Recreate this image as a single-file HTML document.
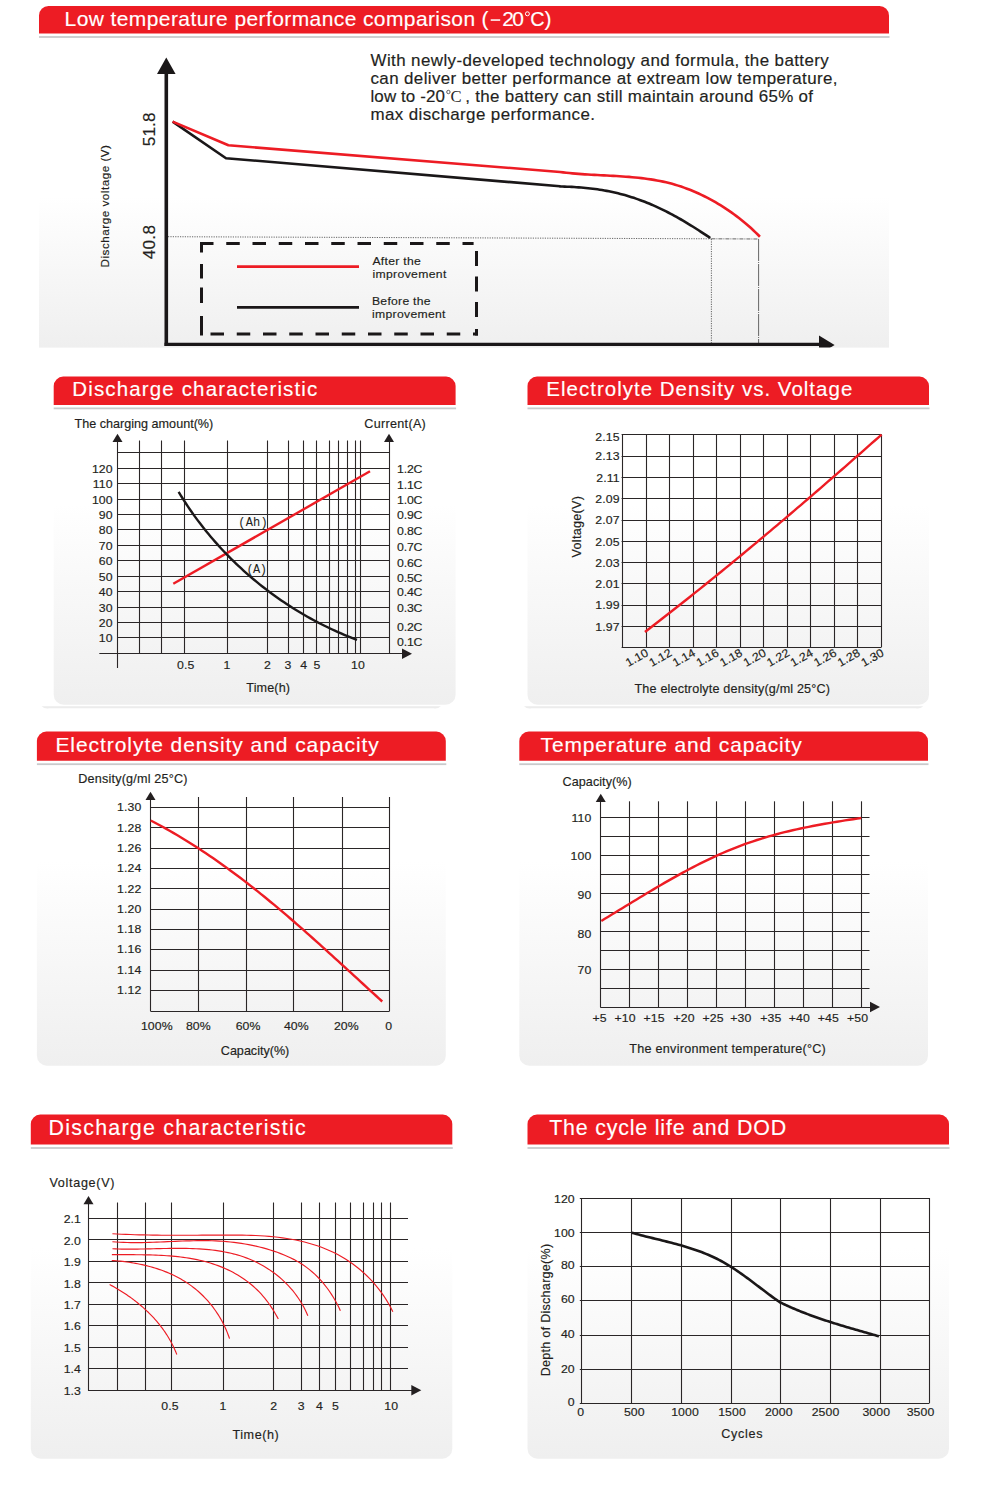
<!DOCTYPE html>
<html><head><meta charset="utf-8"><title>Battery characteristic curves</title>
<style>html,body{margin:0;padding:0;background:#fff;overflow:hidden}svg{display:block}text{font-family:"Liberation Sans",sans-serif;fill:#231f20;stroke:#231f20;stroke-width:.16px;paint-order:stroke}</style>
</head><body>
<svg width="1000" height="1500" viewBox="0 0 1000 1500">
<defs>
<linearGradient id="g" x1="0" y1="0" x2="0" y2="1"><stop offset="0" stop-color="#fff"/><stop offset="0.33" stop-color="#fff"/><stop offset="1" stop-color="#efefef"/></linearGradient>
<linearGradient id="g1" x1="0" y1="0" x2="0" y2="1"><stop offset="0" stop-color="#fff"/><stop offset="0.52" stop-color="#fff"/><stop offset="1" stop-color="#efefef"/></linearGradient>
</defs>
<rect width="1000" height="1500" fill="#fff"/>
<rect x="39" y="33.6" width="850" height="314" fill="url(#g1)"/>
<rect x="39" y="33.6" width="850" height="3" fill="#fff"/>
<rect x="39" y="36.1" width="850.5" height="1.8" fill="#c9cacc"/>
<path d="M39 33.6 V15.5 A9.5 9.5 0 0 1 48.5 6 H879.5 A9.5 9.5 0 0 1 889 15.5 V33.6 Z" fill="#ed1c24"/>
<text font-size="21" textLength="410.5" lengthAdjust="spacing" style="fill:#fff;stroke:#fff;stroke-width:0.15px;" transform="translate(64.6 25.5) scale(1 1)">Low temperature performance comparison</text>
<text font-size="21" style="fill:#fff;stroke:#fff;stroke-width:0.15px;" transform="translate(481.6 25.8) scale(1 1)">(</text>
<rect x="490.7" y="19.3" width="9.5" height="1.5" fill="#fff"/>
<text font-size="21" textLength="21.7" lengthAdjust="spacing" style="fill:#fff;stroke:#fff;stroke-width:0.15px;" transform="translate(502.2 26.4) scale(1 1)">20</text>
<circle cx="527.4" cy="13.8" r="2" fill="none" stroke="#fff" stroke-width="1"/>
<text font-size="20.6" style="fill:#fff;stroke:#fff;stroke-width:0.15px;" transform="translate(530.2 26.4) scale(0.96 1)">C</text>
<text font-size="21" style="fill:#fff;stroke:#fff;stroke-width:0.15px;" transform="translate(544.6 25.8) scale(1 1)">)</text>
<text font-size="16" textLength="432.36" lengthAdjust="spacing" transform="translate(370.5 65.75) scale(1.06 1)">With newly-developed technology and formula, the battery</text>
<text font-size="16" textLength="440.57" lengthAdjust="spacing" transform="translate(370.5 83.85) scale(1.06 1)">can deliver better performance at extream low temperature,</text>
<text font-size="16" textLength="70.19" lengthAdjust="spacing" transform="translate(370.5 102) scale(1.06 1)">low to -20</text>
<text font-size="16" textLength="328.02" lengthAdjust="spacing" transform="translate(465.3 102) scale(1.06 1)">, the battery can still maintain around 65% of</text>
<text font-size="16" textLength="211.79" lengthAdjust="spacing" transform="translate(370.5 120.1) scale(1.06 1)">max discharge performance.</text>
<circle cx="448.4" cy="92" r="1.7" fill="none" stroke="#3a3637" stroke-width="0.8"/>
<text font-size="17" style="fill:#2c2829;stroke:#2c2829;font-family:'Liberation Serif',serif;stroke-width:0px;" transform="translate(450.6 102.2) scale(0.98 1)">C</text>
<line x1="168" y1="236.7" x2="711.4" y2="238.8" stroke="#555" stroke-width="0.9" stroke-dasharray="1.2 1.2"/>
<line x1="711.4" y1="238.8" x2="758.6" y2="239" stroke="#666" stroke-width="1" stroke-dasharray="4 1 1 1"/>
<line x1="711.4" y1="239" x2="711.4" y2="343" stroke="#555" stroke-width="0.9" stroke-dasharray="1.2 1.2"/>
<line x1="758.6" y1="239" x2="758.6" y2="343" stroke="#666" stroke-width="1" stroke-dasharray="22 1 1 1"/>
<path d="M172.6 121.6 L226 158.2 L560 186.3 L559.96 186.5L562.31 186.56L564.66 186.63L567.01 186.71L569.36 186.81L571.71 186.92L574.06 187.04L576.41 187.19L578.75 187.35L581.1 187.53L583.44 187.72L585.78 187.94L588.11 188.17L590.44 188.43L592.77 188.71L595.09 189L597.41 189.33L599.73 189.67L602.04 190.04L604.35 190.43L606.65 190.85L608.94 191.29L611.23 191.76L613.51 192.26L615.79 192.78L618.06 193.33L620.32 193.9L622.57 194.5L624.82 195.12L627.07 195.77L629.3 196.44L631.53 197.14L633.75 197.86L635.97 198.61L638.17 199.37L640.37 200.17L642.56 200.98L644.74 201.82L646.92 202.68L649.09 203.57L651.25 204.47L653.4 205.4L655.54 206.35L657.67 207.32L659.8 208.32L661.91 209.33L664.02 210.36L666.12 211.41L668.21 212.48L670.29 213.57L672.37 214.68L674.44 215.8L676.49 216.93L678.54 218.08L680.59 219.25L682.62 220.43L684.65 221.62L686.66 222.82L688.67 224.04L690.68 225.27L692.67 226.51L694.66 227.75L696.63 229.01L698.61 230.28L700.57 231.55L702.52 232.83L704.47 234.11L706.41 235.41L708.34 236.7L710.27 238.01" fill="none" stroke="#1a1718" stroke-width="2.6" stroke-linejoin="round"/>
<path d="M172.6 121.6 L228.4 145.3 L560 172 L560.03 171.98L563.11 172.38L566.21 172.74L569.31 173.08L572.41 173.38L575.53 173.65L578.65 173.91L581.78 174.14L584.91 174.35L588.05 174.55L591.19 174.73L594.33 174.91L597.48 175.07L600.63 175.23L603.78 175.39L606.93 175.55L610.08 175.72L613.23 175.89L616.38 176.07L619.52 176.26L622.67 176.46L625.81 176.68L628.95 176.92L632.08 177.18L635.21 177.47L638.34 177.79L641.45 178.13L644.56 178.51L647.66 178.93L650.76 179.38L653.84 179.87L656.92 180.41L659.99 181L663.04 181.63L666.08 182.32L669.12 183.06L672.13 183.86L675.14 184.72L678.13 185.63L681.11 186.6L684.07 187.62L687.01 188.7L689.94 189.83L692.85 191.01L695.75 192.24L698.62 193.53L701.47 194.86L704.31 196.23L707.12 197.66L709.91 199.13L712.67 200.64L715.42 202.2L718.14 203.8L720.83 205.45L723.5 207.13L726.15 208.85L728.76 210.61L731.35 212.41L733.91 214.25L736.44 216.12L738.94 218.03L741.41 219.97L743.85 221.95L746.26 223.96L748.63 226L750.96 228.08L753.26 230.2L755.51 232.34L757.73 234.52L759.91 236.74" fill="none" stroke="#ed1c24" stroke-width="2.6" stroke-linejoin="round"/>
<line x1="166.3" y1="72" x2="166.3" y2="346" stroke="#1a1718" stroke-width="3.6"/>
<line x1="164.5" y1="344.3" x2="822" y2="344.3" stroke="#1a1718" stroke-width="3.2"/>
<polygon points="166.3,57.5 157,74 175.6,74" fill="#1a1718"/>
<clipPath id="c1"><rect x="39" y="0" width="850" height="347.6"/></clipPath>
<polygon points="834.6,345 819,335.4 819,354.6" fill="#1a1718" clip-path="url(#c1)"/>
<line x1="200" y1="243.5" x2="473.6" y2="243.5" stroke="#1a1718" stroke-width="3" stroke-dasharray="13.5 12.75" stroke-linecap="butt"/>
<line x1="210.5" y1="334.1" x2="478" y2="334.1" stroke="#1a1718" stroke-width="3" stroke-dasharray="13.5 12.75" stroke-linecap="butt"/>
<line x1="201.5" y1="242" x2="201.5" y2="335.6" stroke="#1a1718" stroke-width="3" stroke-dasharray="10.5 11.5 14.5 9 15.5 13 20 0"/>
<line x1="476.5" y1="251" x2="476.5" y2="335.6" stroke="#1a1718" stroke-width="3" stroke-dasharray="15 10.5 15 10.5 15 12 20 0"/>
<line x1="237" y1="266.6" x2="359" y2="266.6" stroke="#ed1c24" stroke-width="2.6"/>
<line x1="237" y1="307.4" x2="359" y2="307.4" stroke="#1a1718" stroke-width="2.6"/>
<text font-size="11.5" textLength="45.75" lengthAdjust="spacing" transform="translate(372.4 265.2) scale(1.06 1)">After the</text>
<text font-size="11.5" textLength="69.81" lengthAdjust="spacing" transform="translate(372.4 278.4) scale(1.06 1)">improvement</text>
<text font-size="11.5" textLength="55.19" lengthAdjust="spacing" transform="translate(372 305.3) scale(1.06 1)">Before the</text>
<text font-size="11.5" textLength="69.34" lengthAdjust="spacing" transform="translate(372 318.3) scale(1.06 1)">improvement</text>
<text font-size="11" textLength="115.57" lengthAdjust="spacing" transform="translate(109 267.5) rotate(-90) scale(1.06 1)">Discharge voltage (V)</text>
<text font-size="16.2" textLength="31.89" lengthAdjust="spacing" transform="translate(155 146.3) rotate(-90) scale(1.06 1)">51.8</text>
<text font-size="16.2" textLength="32.36" lengthAdjust="spacing" transform="translate(155.3 259.3) rotate(-90) scale(1.06 1)">40.8</text>
<path d="M41.5 706.2 A9 9 0 0 0 49 708.2 H433.4 A9 9 0 0 0 440.9 706.2 Z" fill="#ececec"/>
<path d="M53.7 405 H455.6 V694.8 A10 10 0 0 1 445.6 704.8 H63.7 A10 10 0 0 1 53.7 694.8 Z" fill="url(#g)"/>
<rect x="53.7" y="405" width="401.9" height="3" fill="#fff"/>
<rect x="53.7" y="407.5" width="402.4" height="1.8" fill="#c9cacc"/>
<path d="M53.7 405 V386.1 A9.5 9.5 0 0 1 63.2 376.6 H446.1 A9.5 9.5 0 0 1 455.6 386.1 V405 Z" fill="#ed1c24"/>
<text font-size="20.5" textLength="245" lengthAdjust="spacing" style="fill:#fff;stroke:#fff;stroke-width:0.15px;" transform="translate(72.3 396.1) scale(1 1)">Discharge characteristic</text>
<text font-size="11.9" textLength="130.94" lengthAdjust="spacing" transform="translate(74.5 427.5) scale(1.06 1)">The charging amount(%)</text>
<text font-size="11.9" textLength="58.02" lengthAdjust="spacing" transform="translate(364.3 427.5) scale(1.06 1)">Current(A)</text>
<line x1="139.5" y1="440.5" x2="139.5" y2="653.7" stroke="#2a2627" stroke-width="1.1"/>
<line x1="161.5" y1="440.5" x2="161.5" y2="653.7" stroke="#2a2627" stroke-width="1.1"/>
<line x1="184.5" y1="440.5" x2="184.5" y2="653.7" stroke="#2a2627" stroke-width="1.1"/>
<line x1="227.5" y1="440.5" x2="227.5" y2="653.7" stroke="#2a2627" stroke-width="1.1"/>
<line x1="267.5" y1="440.5" x2="267.5" y2="653.7" stroke="#2a2627" stroke-width="1.1"/>
<line x1="288.5" y1="440.5" x2="288.5" y2="653.7" stroke="#2a2627" stroke-width="1.1"/>
<line x1="303.5" y1="440.5" x2="303.5" y2="653.7" stroke="#2a2627" stroke-width="1.1"/>
<line x1="316.5" y1="440.5" x2="316.5" y2="653.7" stroke="#2a2627" stroke-width="1.1"/>
<line x1="329.5" y1="440.5" x2="329.5" y2="653.7" stroke="#2a2627" stroke-width="1.1"/>
<line x1="338.5" y1="440.5" x2="338.5" y2="653.7" stroke="#2a2627" stroke-width="1.1"/>
<line x1="347.5" y1="440.5" x2="347.5" y2="653.7" stroke="#2a2627" stroke-width="1.1"/>
<line x1="355.5" y1="440.5" x2="355.5" y2="653.7" stroke="#2a2627" stroke-width="1.1"/>
<line x1="360.5" y1="440.5" x2="360.5" y2="653.7" stroke="#2a2627" stroke-width="1.1"/>
<line x1="117.5" y1="452.5" x2="389" y2="452.5" stroke="#2a2627" stroke-width="1.1"/>
<line x1="117.5" y1="468.5" x2="389" y2="468.5" stroke="#2a2627" stroke-width="1.1"/>
<line x1="117.5" y1="483.5" x2="389" y2="483.5" stroke="#2a2627" stroke-width="1.1"/>
<line x1="117.5" y1="499.5" x2="389" y2="499.5" stroke="#2a2627" stroke-width="1.1"/>
<line x1="117.5" y1="514.5" x2="389" y2="514.5" stroke="#2a2627" stroke-width="1.1"/>
<line x1="117.5" y1="529.5" x2="389" y2="529.5" stroke="#2a2627" stroke-width="1.1"/>
<line x1="117.5" y1="545.5" x2="389" y2="545.5" stroke="#2a2627" stroke-width="1.1"/>
<line x1="117.5" y1="560.5" x2="389" y2="560.5" stroke="#2a2627" stroke-width="1.1"/>
<line x1="117.5" y1="576.5" x2="389" y2="576.5" stroke="#2a2627" stroke-width="1.1"/>
<line x1="117.5" y1="591.5" x2="389" y2="591.5" stroke="#2a2627" stroke-width="1.1"/>
<line x1="117.5" y1="607.5" x2="389" y2="607.5" stroke="#2a2627" stroke-width="1.1"/>
<line x1="117.5" y1="622.5" x2="389" y2="622.5" stroke="#2a2627" stroke-width="1.1"/>
<line x1="117.5" y1="637.5" x2="389" y2="637.5" stroke="#2a2627" stroke-width="1.1"/>
<line x1="117.5" y1="441" x2="117.5" y2="668" stroke="#2a2627" stroke-width="1.1"/>
<line x1="389.5" y1="441" x2="389.5" y2="653.7" stroke="#2a2627" stroke-width="1.1"/>
<line x1="99.3" y1="653.5" x2="404" y2="653.5" stroke="#2a2627" stroke-width="1.1"/>
<polygon points="117.5,433.7 112.5,442 122.5,442" fill="#231f20"/>
<polygon points="389,433.7 384,442 394,442" fill="#231f20"/>
<polygon points="412,653.7 402,648.4 402,659" fill="#231f20"/>
<text font-size="11.6" text-anchor="end" letter-spacing="0.09" transform="translate(112.7 472.6) scale(1.06 1)">120</text>
<text font-size="11.6" text-anchor="end" letter-spacing="0.09" transform="translate(112.7 488.2) scale(1.06 1)">110</text>
<text font-size="11.6" text-anchor="end" letter-spacing="0.09" transform="translate(112.7 503.6) scale(1.06 1)">100</text>
<text font-size="11.6" text-anchor="end" letter-spacing="0.09" transform="translate(112.7 519.1) scale(1.06 1)">90</text>
<text font-size="11.6" text-anchor="end" letter-spacing="0.09" transform="translate(112.7 534.4) scale(1.06 1)">80</text>
<text font-size="11.6" text-anchor="end" letter-spacing="0.09" transform="translate(112.7 549.9) scale(1.06 1)">70</text>
<text font-size="11.6" text-anchor="end" letter-spacing="0.09" transform="translate(112.7 565.4) scale(1.06 1)">60</text>
<text font-size="11.6" text-anchor="end" letter-spacing="0.09" transform="translate(112.7 580.9) scale(1.06 1)">50</text>
<text font-size="11.6" text-anchor="end" letter-spacing="0.09" transform="translate(112.7 596.4) scale(1.06 1)">40</text>
<text font-size="11.6" text-anchor="end" letter-spacing="0.09" transform="translate(112.7 611.8) scale(1.06 1)">30</text>
<text font-size="11.6" text-anchor="end" letter-spacing="0.09" transform="translate(112.7 627.1) scale(1.06 1)">20</text>
<text font-size="11.6" text-anchor="end" letter-spacing="0.09" transform="translate(112.7 642.4) scale(1.06 1)">10</text>
<text font-size="11.6" textLength="24.06" lengthAdjust="spacing" transform="translate(397 472.5) scale(1.06 1)">1.2C</text>
<text font-size="11.6" textLength="24.06" lengthAdjust="spacing" transform="translate(397 488.75) scale(1.06 1)">1.1C</text>
<text font-size="11.6" textLength="24.06" lengthAdjust="spacing" transform="translate(397 504.25) scale(1.06 1)">1.0C</text>
<text font-size="11.6" textLength="24.06" lengthAdjust="spacing" transform="translate(397 519.1) scale(1.06 1)">0.9C</text>
<text font-size="11.6" textLength="24.06" lengthAdjust="spacing" transform="translate(397 535) scale(1.06 1)">0.8C</text>
<text font-size="11.6" textLength="24.06" lengthAdjust="spacing" transform="translate(397 550.5) scale(1.06 1)">0.7C</text>
<text font-size="11.6" textLength="24.06" lengthAdjust="spacing" transform="translate(397 567) scale(1.06 1)">0.6C</text>
<text font-size="11.6" textLength="24.06" lengthAdjust="spacing" transform="translate(397 581.75) scale(1.06 1)">0.5C</text>
<text font-size="11.6" textLength="24.06" lengthAdjust="spacing" transform="translate(397 596.25) scale(1.06 1)">0.4C</text>
<text font-size="11.6" textLength="24.06" lengthAdjust="spacing" transform="translate(397 612) scale(1.06 1)">0.3C</text>
<text font-size="11.6" textLength="24.06" lengthAdjust="spacing" transform="translate(397 630.75) scale(1.06 1)">0.2C</text>
<text font-size="11.6" textLength="24.06" lengthAdjust="spacing" transform="translate(397 646.25) scale(1.06 1)">0.1C</text>
<text font-size="11.6" text-anchor="middle" letter-spacing="0.09" transform="translate(185.8 668.9) scale(1.06 1)">0.5</text>
<text font-size="11.6" text-anchor="middle" letter-spacing="0.09" transform="translate(227.05 668.9) scale(1.06 1)">1</text>
<text font-size="11.6" text-anchor="middle" letter-spacing="0.09" transform="translate(267.55 668.9) scale(1.06 1)">2</text>
<text font-size="11.6" text-anchor="middle" letter-spacing="0.09" transform="translate(288.05 668.9) scale(1.06 1)">3</text>
<text font-size="11.6" text-anchor="middle" letter-spacing="0.09" transform="translate(303.8 668.9) scale(1.06 1)">4</text>
<text font-size="11.6" text-anchor="middle" letter-spacing="0.09" transform="translate(317.05 668.9) scale(1.06 1)">5</text>
<text font-size="11.6" text-anchor="middle" letter-spacing="0.09" transform="translate(358.05 668.9) scale(1.06 1)">10</text>
<text font-size="11.9" textLength="41.23" lengthAdjust="spacing" transform="translate(246.3 692) scale(1.06 1)">Time(h)</text>
<rect x="239" y="515.5" width="27.5" height="13" fill="#fafafa"/>
<text font-size="12" textLength="29.6" lengthAdjust="spacing" style="font-family:'Liberation Mono',monospace;stroke-width:0px;" transform="translate(238.2 526) scale(1 1)">(Ah)</text>
<rect x="247" y="562" width="19" height="13" fill="#f7f7f7"/>
<text font-size="12" textLength="20.6" lengthAdjust="spacing" style="font-family:'Liberation Mono',monospace;stroke-width:0px;" transform="translate(246.4 572.8) scale(1 1)">(A)</text>
<path d="M173.3 583.8 L370 471.3" fill="none" stroke="#ed1c24" stroke-width="2.4"/>
<path d="M178.63 491.9L180.41 494.83L182.23 497.75L184.07 500.64L185.94 503.52L187.83 506.37L189.76 509.21L191.71 512.02L193.69 514.82L195.7 517.59L197.73 520.35L199.8 523.08L201.89 525.79L204 528.48L206.14 531.15L208.31 533.8L210.5 536.42L212.72 539.02L214.96 541.61L217.23 544.16L219.52 546.7L221.84 549.21L224.18 551.71L226.54 554.17L228.93 556.62L231.35 559.04L233.78 561.44L236.24 563.81L238.72 566.16L241.22 568.49L243.75 570.79L246.3 573.07L248.87 575.32L251.46 577.55L254.07 579.76L256.7 581.94L259.35 584.09L262.03 586.22L264.72 588.32L267.44 590.4L270.17 592.45L272.93 594.48L275.7 596.48L278.49 598.45L281.3 600.39L284.13 602.31L286.98 604.21L289.84 606.07L292.73 607.91L295.63 609.72L298.55 611.5L301.48 613.26L304.44 614.98L307.4 616.68L310.39 618.35L313.39 620L316.41 621.61L319.44 623.2L322.49 624.75L325.55 626.28L328.63 627.78L331.72 629.24L334.83 630.68L337.95 632.09L341.09 633.47L344.24 634.82L347.4 636.13L350.58 637.42L353.76 638.68L356.97 639.9" fill="none" stroke="#1a1718" stroke-width="2.4"/>
<path d="M523.9 706.2 A9 9 0 0 0 531.4 708.2 H915.8 A9 9 0 0 0 923.3 706.2 Z" fill="#ececec"/>
<path d="M527.5 405 H929 V694.8 A10 10 0 0 1 919 704.8 H537.5 A10 10 0 0 1 527.5 694.8 Z" fill="url(#g)"/>
<rect x="527.5" y="405" width="401.5" height="3" fill="#fff"/>
<rect x="527.5" y="407.5" width="402" height="1.8" fill="#c9cacc"/>
<path d="M527.5 405 V386.1 A9.5 9.5 0 0 1 537 376.6 H919.5 A9.5 9.5 0 0 1 929 386.1 V405 Z" fill="#ed1c24"/>
<text font-size="20.5" textLength="306" lengthAdjust="spacing" style="fill:#fff;stroke:#fff;stroke-width:0.15px;" transform="translate(546.3 396.1) scale(1 1)">Electrolyte Density vs. Voltage</text>
<line x1="622.5" y1="434.5" x2="622.5" y2="647" stroke="#2a2627" stroke-width="1.1"/>
<line x1="646.5" y1="434.5" x2="646.5" y2="647" stroke="#2a2627" stroke-width="1.1"/>
<line x1="669.5" y1="434.5" x2="669.5" y2="647" stroke="#2a2627" stroke-width="1.1"/>
<line x1="693.5" y1="434.5" x2="693.5" y2="647" stroke="#2a2627" stroke-width="1.1"/>
<line x1="716.5" y1="434.5" x2="716.5" y2="647" stroke="#2a2627" stroke-width="1.1"/>
<line x1="740.5" y1="434.5" x2="740.5" y2="647" stroke="#2a2627" stroke-width="1.1"/>
<line x1="763.5" y1="434.5" x2="763.5" y2="647" stroke="#2a2627" stroke-width="1.1"/>
<line x1="787.5" y1="434.5" x2="787.5" y2="647" stroke="#2a2627" stroke-width="1.1"/>
<line x1="810.5" y1="434.5" x2="810.5" y2="647" stroke="#2a2627" stroke-width="1.1"/>
<line x1="834.5" y1="434.5" x2="834.5" y2="647" stroke="#2a2627" stroke-width="1.1"/>
<line x1="857.5" y1="434.5" x2="857.5" y2="647" stroke="#2a2627" stroke-width="1.1"/>
<line x1="881.5" y1="434.5" x2="881.5" y2="647" stroke="#2a2627" stroke-width="1.1"/>
<line x1="621.6" y1="434.5" x2="881.5" y2="434.5" stroke="#2a2627" stroke-width="1.1"/>
<line x1="621.6" y1="456.5" x2="881.5" y2="456.5" stroke="#2a2627" stroke-width="1.1"/>
<line x1="621.6" y1="477.5" x2="881.5" y2="477.5" stroke="#2a2627" stroke-width="1.1"/>
<line x1="621.6" y1="498.5" x2="881.5" y2="498.5" stroke="#2a2627" stroke-width="1.1"/>
<line x1="621.6" y1="520.5" x2="881.5" y2="520.5" stroke="#2a2627" stroke-width="1.1"/>
<line x1="621.6" y1="541.5" x2="881.5" y2="541.5" stroke="#2a2627" stroke-width="1.1"/>
<line x1="621.6" y1="562.5" x2="881.5" y2="562.5" stroke="#2a2627" stroke-width="1.1"/>
<line x1="621.6" y1="583.5" x2="881.5" y2="583.5" stroke="#2a2627" stroke-width="1.1"/>
<line x1="621.6" y1="605.5" x2="881.5" y2="605.5" stroke="#2a2627" stroke-width="1.1"/>
<line x1="621.6" y1="626.5" x2="881.5" y2="626.5" stroke="#2a2627" stroke-width="1.1"/>
<line x1="621.6" y1="647.5" x2="881.5" y2="647.5" stroke="#2a2627" stroke-width="1.1"/>
<text font-size="11.6" text-anchor="end" letter-spacing="0.09" transform="translate(619.6 440.5) scale(1.06 1)">2.15</text>
<text font-size="11.6" text-anchor="end" letter-spacing="0.09" transform="translate(619.6 460.3) scale(1.06 1)">2.13</text>
<text font-size="11.6" text-anchor="end" letter-spacing="0.09" transform="translate(619.6 481.7) scale(1.06 1)">2.11</text>
<text font-size="11.6" text-anchor="end" letter-spacing="0.09" transform="translate(619.6 502.95) scale(1.06 1)">2.09</text>
<text font-size="11.6" text-anchor="end" letter-spacing="0.09" transform="translate(619.6 524.2) scale(1.06 1)">2.07</text>
<text font-size="11.6" text-anchor="end" letter-spacing="0.09" transform="translate(619.6 545.8) scale(1.06 1)">2.05</text>
<text font-size="11.6" text-anchor="end" letter-spacing="0.09" transform="translate(619.6 566.7) scale(1.06 1)">2.03</text>
<text font-size="11.6" text-anchor="end" letter-spacing="0.09" transform="translate(619.6 588.1) scale(1.06 1)">2.01</text>
<text font-size="11.6" text-anchor="end" letter-spacing="0.09" transform="translate(619.6 609.2) scale(1.06 1)">1.99</text>
<text font-size="11.6" text-anchor="end" letter-spacing="0.09" transform="translate(619.6 630.6) scale(1.06 1)">1.97</text>
<text font-size="11.6" text-anchor="end" transform="translate(649.14 655.3) rotate(-29) scale(1.06 1)">1.10</text>
<text font-size="11.6" text-anchor="end" transform="translate(672.69 655.3) rotate(-29) scale(1.06 1)">1.12</text>
<text font-size="11.6" text-anchor="end" transform="translate(696.24 655.3) rotate(-29) scale(1.06 1)">1.14</text>
<text font-size="11.6" text-anchor="end" transform="translate(719.78 655.3) rotate(-29) scale(1.06 1)">1.16</text>
<text font-size="11.6" text-anchor="end" transform="translate(743.33 655.3) rotate(-29) scale(1.06 1)">1.18</text>
<text font-size="11.6" text-anchor="end" transform="translate(766.87 655.3) rotate(-29) scale(1.06 1)">1.20</text>
<text font-size="11.6" text-anchor="end" transform="translate(790.42 655.3) rotate(-29) scale(1.06 1)">1.22</text>
<text font-size="11.6" text-anchor="end" transform="translate(813.96 655.3) rotate(-29) scale(1.06 1)">1.24</text>
<text font-size="11.6" text-anchor="end" transform="translate(837.5 655.3) rotate(-29) scale(1.06 1)">1.26</text>
<text font-size="11.6" text-anchor="end" transform="translate(861.05 655.3) rotate(-29) scale(1.06 1)">1.28</text>
<text font-size="11.6" text-anchor="end" transform="translate(884.6 655.3) rotate(-29) scale(1.06 1)">1.30</text>
<text font-size="11.9" textLength="58.02" lengthAdjust="spacing" transform="translate(581.3 557.5) rotate(-90) scale(1.06 1)">Voltage(V)</text>
<text font-size="11.9" textLength="184.43" lengthAdjust="spacing" transform="translate(634.5 693) scale(1.06 1)">The electrolyte density(g/ml 25°C)</text>
<path d="M644.96 631.96L648.51 629.24L652.05 626.51L655.59 623.79L659.12 621.05L662.65 618.31L666.17 615.57L669.69 612.82L673.21 610.06L676.72 607.3L680.23 604.53L683.73 601.76L687.23 598.99L690.73 596.21L694.22 593.42L697.71 590.64L701.2 587.84L704.68 585.04L708.15 582.24L711.63 579.43L715.1 576.62L718.56 573.8L722.03 570.98L725.49 568.16L728.94 565.33L732.39 562.5L735.84 559.66L739.29 556.82L742.73 553.97L746.17 551.12L749.61 548.27L753.04 545.41L756.47 542.55L759.9 539.69L763.32 536.82L766.74 533.95L770.16 531.07L773.57 528.19L776.99 525.31L780.4 522.43L783.8 519.54L787.21 516.65L790.61 513.75L794.01 510.85L797.4 507.95L800.8 505.05L804.19 502.14L807.58 499.23L810.96 496.32L814.35 493.4L817.73 490.48L821.11 487.56L824.48 484.64L827.86 481.71L831.23 478.78L834.6 475.85L837.97 472.92L841.33 469.98L844.7 467.05L848.06 464.11L851.42 461.16L854.78 458.22L858.13 455.27L861.49 452.32L864.84 449.37L868.19 446.42L871.54 443.47L874.89 440.51L878.24 437.55L881.58 434.59" fill="none" stroke="#ed1c24" stroke-width="2.4"/>
<path d="M36.9 760.8 H445.8 V1055.8 A10 10 0 0 1 435.8 1065.8 H46.9 A10 10 0 0 1 36.9 1055.8 Z" fill="url(#g)"/>
<rect x="36.9" y="760.8" width="408.9" height="3" fill="#fff"/>
<rect x="36.9" y="763.3" width="409.4" height="1.8" fill="#c9cacc"/>
<path d="M36.9 760.8 V741.1 A9.5 9.5 0 0 1 46.4 731.6 H436.3 A9.5 9.5 0 0 1 445.8 741.1 V760.8 Z" fill="#ed1c24"/>
<text font-size="21" textLength="323.4" lengthAdjust="spacing" style="fill:#fff;stroke:#fff;stroke-width:0.15px;" transform="translate(55.4 751.6) scale(1 1)">Electrolyte density and capacity</text>
<text font-size="11.9" textLength="103.02" lengthAdjust="spacing" transform="translate(78.3 783.25) scale(1.06 1)">Density(g/ml 25°C)</text>
<line x1="150.5" y1="797" x2="150.5" y2="1011.2" stroke="#2a2627" stroke-width="1.1"/>
<line x1="198.5" y1="797" x2="198.5" y2="1011.2" stroke="#2a2627" stroke-width="1.1"/>
<line x1="246.5" y1="797" x2="246.5" y2="1011.2" stroke="#2a2627" stroke-width="1.1"/>
<line x1="293.5" y1="797" x2="293.5" y2="1011.2" stroke="#2a2627" stroke-width="1.1"/>
<line x1="342.5" y1="797" x2="342.5" y2="1011.2" stroke="#2a2627" stroke-width="1.1"/>
<line x1="389.5" y1="797" x2="389.5" y2="1011.2" stroke="#2a2627" stroke-width="1.1"/>
<line x1="150.5" y1="807.5" x2="389.5" y2="807.5" stroke="#2a2627" stroke-width="1.1"/>
<line x1="150.5" y1="827.5" x2="389.5" y2="827.5" stroke="#2a2627" stroke-width="1.1"/>
<line x1="150.5" y1="848.5" x2="389.5" y2="848.5" stroke="#2a2627" stroke-width="1.1"/>
<line x1="150.5" y1="868.5" x2="389.5" y2="868.5" stroke="#2a2627" stroke-width="1.1"/>
<line x1="150.5" y1="888.5" x2="389.5" y2="888.5" stroke="#2a2627" stroke-width="1.1"/>
<line x1="150.5" y1="909.5" x2="389.5" y2="909.5" stroke="#2a2627" stroke-width="1.1"/>
<line x1="150.5" y1="929.5" x2="389.5" y2="929.5" stroke="#2a2627" stroke-width="1.1"/>
<line x1="150.5" y1="949.5" x2="389.5" y2="949.5" stroke="#2a2627" stroke-width="1.1"/>
<line x1="150.5" y1="970.5" x2="389.5" y2="970.5" stroke="#2a2627" stroke-width="1.1"/>
<line x1="150.5" y1="990.5" x2="389.5" y2="990.5" stroke="#2a2627" stroke-width="1.1"/>
<line x1="150.5" y1="1011.5" x2="389.5" y2="1011.5" stroke="#2a2627" stroke-width="1.1"/>
<polygon points="150.5,791.8 145.5,800.1 155.5,800.1" fill="#231f20"/>
<text font-size="11.6" text-anchor="end" letter-spacing="0.09" transform="translate(141.4 811.4) scale(1.06 1)">1.30</text>
<text font-size="11.6" text-anchor="end" letter-spacing="0.09" transform="translate(141.4 831.65) scale(1.06 1)">1.28</text>
<text font-size="11.6" text-anchor="end" letter-spacing="0.09" transform="translate(141.4 851.9) scale(1.06 1)">1.26</text>
<text font-size="11.6" text-anchor="end" letter-spacing="0.09" transform="translate(141.4 872.15) scale(1.06 1)">1.24</text>
<text font-size="11.6" text-anchor="end" letter-spacing="0.09" transform="translate(141.4 892.65) scale(1.06 1)">1.22</text>
<text font-size="11.6" text-anchor="end" letter-spacing="0.09" transform="translate(141.4 913.15) scale(1.06 1)">1.20</text>
<text font-size="11.6" text-anchor="end" letter-spacing="0.09" transform="translate(141.4 933.4) scale(1.06 1)">1.18</text>
<text font-size="11.6" text-anchor="end" letter-spacing="0.09" transform="translate(141.4 953.4) scale(1.06 1)">1.16</text>
<text font-size="11.6" text-anchor="end" letter-spacing="0.09" transform="translate(141.4 974) scale(1.06 1)">1.14</text>
<text font-size="11.6" text-anchor="end" letter-spacing="0.09" transform="translate(141.4 994.15) scale(1.06 1)">1.12</text>
<text font-size="11.6" text-anchor="middle" letter-spacing="0.09" transform="translate(156.8 1030.2) scale(1.06 1)">100%</text>
<text font-size="11.6" text-anchor="middle" letter-spacing="0.09" transform="translate(198.3 1030.2) scale(1.06 1)">80%</text>
<text font-size="11.6" text-anchor="middle" letter-spacing="0.09" transform="translate(248.05 1030.2) scale(1.06 1)">60%</text>
<text font-size="11.6" text-anchor="middle" letter-spacing="0.09" transform="translate(296.3 1030.2) scale(1.06 1)">40%</text>
<text font-size="11.6" text-anchor="middle" letter-spacing="0.09" transform="translate(346.3 1030.2) scale(1.06 1)">20%</text>
<text font-size="11.6" text-anchor="middle" letter-spacing="0.09" transform="translate(388.8 1030.2) scale(1.06 1)">0</text>
<text font-size="11.9" textLength="64.62" lengthAdjust="spacing" transform="translate(220.8 1055) scale(1.06 1)">Capacity(%)</text>
<path d="M150.73 820.49L154.55 822.48L158.34 824.5L162.11 826.54L165.86 828.62L169.59 830.73L173.31 832.86L177 835.02L180.67 837.21L184.33 839.42L187.97 841.67L191.59 843.93L195.19 846.22L198.78 848.54L202.34 850.88L205.9 853.25L209.43 855.63L212.95 858.04L216.46 860.47L219.95 862.93L223.42 865.4L226.88 867.9L230.32 870.41L233.76 872.94L237.17 875.5L240.58 878.07L243.97 880.66L247.35 883.26L250.72 885.89L254.07 888.52L257.42 891.18L260.75 893.85L264.07 896.54L267.38 899.23L270.68 901.95L273.97 904.67L277.25 907.41L280.52 910.16L283.78 912.93L287.04 915.7L290.28 918.48L293.52 921.28L296.75 924.08L299.97 926.89L303.19 929.72L306.4 932.54L309.6 935.38L312.8 938.23L315.99 941.08L319.17 943.93L322.35 946.79L325.53 949.66L328.7 952.53L331.87 955.4L335.03 958.28L338.19 961.16L341.35 964.05L344.5 966.93L347.65 969.82L350.8 972.7L353.95 975.59L357.09 978.48L360.24 981.36L363.38 984.25L366.53 987.13L369.67 990.01L372.82 992.89L375.96 995.76L379.11 998.63L382.25 1001.5" fill="none" stroke="#ed1c24" stroke-width="2.4"/>
<path d="M519.3 760.8 H928 V1055.8 A10 10 0 0 1 918 1065.8 H529.3 A10 10 0 0 1 519.3 1055.8 Z" fill="url(#g)"/>
<rect x="519.3" y="760.8" width="408.7" height="3" fill="#fff"/>
<rect x="519.3" y="763.3" width="409.2" height="1.8" fill="#c9cacc"/>
<path d="M519.3 760.8 V741.1 A9.5 9.5 0 0 1 528.8 731.6 H918.5 A9.5 9.5 0 0 1 928 741.1 V760.8 Z" fill="#ed1c24"/>
<text font-size="21" textLength="261.2" lengthAdjust="spacing" style="fill:#fff;stroke:#fff;stroke-width:0.15px;" transform="translate(540.6 751.6) scale(1 1)">Temperature and capacity</text>
<text font-size="11.9" textLength="65.38" lengthAdjust="spacing" transform="translate(562.5 786.25) scale(1.06 1)">Capacity(%)</text>
<line x1="600.5" y1="801.3" x2="600.5" y2="1007" stroke="#2a2627" stroke-width="1.1"/>
<line x1="629.5" y1="801.3" x2="629.5" y2="1007" stroke="#2a2627" stroke-width="1.1"/>
<line x1="658.5" y1="801.3" x2="658.5" y2="1007" stroke="#2a2627" stroke-width="1.1"/>
<line x1="687.5" y1="801.3" x2="687.5" y2="1007" stroke="#2a2627" stroke-width="1.1"/>
<line x1="716.5" y1="801.3" x2="716.5" y2="1007" stroke="#2a2627" stroke-width="1.1"/>
<line x1="745.5" y1="801.3" x2="745.5" y2="1007" stroke="#2a2627" stroke-width="1.1"/>
<line x1="774.5" y1="801.3" x2="774.5" y2="1007" stroke="#2a2627" stroke-width="1.1"/>
<line x1="803.5" y1="801.3" x2="803.5" y2="1007" stroke="#2a2627" stroke-width="1.1"/>
<line x1="832.5" y1="801.3" x2="832.5" y2="1007" stroke="#2a2627" stroke-width="1.1"/>
<line x1="861.5" y1="801.3" x2="861.5" y2="1007" stroke="#2a2627" stroke-width="1.1"/>
<line x1="600.75" y1="817.5" x2="869.5" y2="817.5" stroke="#2a2627" stroke-width="1.1"/>
<line x1="600.75" y1="836.5" x2="869.5" y2="836.5" stroke="#2a2627" stroke-width="1.1"/>
<line x1="600.75" y1="855.5" x2="869.5" y2="855.5" stroke="#2a2627" stroke-width="1.1"/>
<line x1="600.75" y1="874.5" x2="869.5" y2="874.5" stroke="#2a2627" stroke-width="1.1"/>
<line x1="600.75" y1="893.5" x2="869.5" y2="893.5" stroke="#2a2627" stroke-width="1.1"/>
<line x1="600.75" y1="912.5" x2="869.5" y2="912.5" stroke="#2a2627" stroke-width="1.1"/>
<line x1="600.75" y1="931.5" x2="869.5" y2="931.5" stroke="#2a2627" stroke-width="1.1"/>
<line x1="600.75" y1="950.5" x2="869.5" y2="950.5" stroke="#2a2627" stroke-width="1.1"/>
<line x1="600.75" y1="969.5" x2="869.5" y2="969.5" stroke="#2a2627" stroke-width="1.1"/>
<line x1="600.75" y1="988.5" x2="869.5" y2="988.5" stroke="#2a2627" stroke-width="1.1"/>
<line x1="600.2" y1="1007.5" x2="872" y2="1007.5" stroke="#2a2627" stroke-width="1.1"/>
<polygon points="600.75,793.7 595.75,802 605.75,802" fill="#231f20"/>
<polygon points="880,1007 870,1001.7 870,1012.3" fill="#231f20"/>
<text font-size="11.6" text-anchor="end" letter-spacing="0.09" transform="translate(591.4 822) scale(1.06 1)">110</text>
<text font-size="11.6" text-anchor="end" letter-spacing="0.09" transform="translate(591.4 860) scale(1.06 1)">100</text>
<text font-size="11.6" text-anchor="end" letter-spacing="0.09" transform="translate(591.4 898.75) scale(1.06 1)">90</text>
<text font-size="11.6" text-anchor="end" letter-spacing="0.09" transform="translate(591.4 938.25) scale(1.06 1)">80</text>
<text font-size="11.6" text-anchor="end" letter-spacing="0.09" transform="translate(591.4 974.25) scale(1.06 1)">70</text>
<text font-size="11.6" text-anchor="middle" letter-spacing="0.09" transform="translate(599.55 1021.6) scale(1.06 1)">+5</text>
<text font-size="11.6" text-anchor="middle" letter-spacing="0.09" transform="translate(625.05 1021.6) scale(1.06 1)">+10</text>
<text font-size="11.6" text-anchor="middle" letter-spacing="0.09" transform="translate(654.05 1021.6) scale(1.06 1)">+15</text>
<text font-size="11.6" text-anchor="middle" letter-spacing="0.09" transform="translate(684.05 1021.6) scale(1.06 1)">+20</text>
<text font-size="11.6" text-anchor="middle" letter-spacing="0.09" transform="translate(713.05 1021.6) scale(1.06 1)">+25</text>
<text font-size="11.6" text-anchor="middle" letter-spacing="0.09" transform="translate(740.8 1021.6) scale(1.06 1)">+30</text>
<text font-size="11.6" text-anchor="middle" letter-spacing="0.09" transform="translate(770.8 1021.6) scale(1.06 1)">+35</text>
<text font-size="11.6" text-anchor="middle" letter-spacing="0.09" transform="translate(799.3 1021.6) scale(1.06 1)">+40</text>
<text font-size="11.6" text-anchor="middle" letter-spacing="0.09" transform="translate(828.3 1021.6) scale(1.06 1)">+45</text>
<text font-size="11.6" text-anchor="middle" letter-spacing="0.09" transform="translate(857.55 1021.6) scale(1.06 1)">+50</text>
<text font-size="11.9" textLength="185.38" lengthAdjust="spacing" transform="translate(629.3 1053.25) scale(1.06 1)">The environment temperature(°C)</text>
<path d="M601.32 920.93L604.81 918.82L608.3 916.7L611.79 914.58L615.28 912.46L618.77 910.33L622.26 908.19L625.76 906.06L629.26 903.93L632.76 901.8L636.26 899.67L639.77 897.54L643.28 895.42L646.8 893.31L650.32 891.21L653.85 889.12L657.38 887.04L660.92 884.97L664.47 882.91L668.03 880.87L671.59 878.85L675.16 876.84L678.75 874.85L682.34 872.89L685.94 870.95L689.55 869.03L693.18 867.13L696.81 865.26L700.46 863.42L704.12 861.61L707.8 859.82L711.49 858.07L715.19 856.36L718.91 854.67L722.64 853.02L726.39 851.41L730.15 849.84L733.93 848.31L737.73 846.82L741.55 845.37L745.38 843.96L749.24 842.6L753.11 841.29L757 840.01L760.9 838.78L764.82 837.59L768.75 836.44L772.7 835.33L776.66 834.25L780.63 833.21L784.61 832.2L788.61 831.23L792.61 830.29L796.62 829.38L800.64 828.5L804.66 827.65L808.69 826.82L812.73 826.02L816.77 825.25L820.81 824.5L824.85 823.77L828.9 823.07L832.95 822.38L836.99 821.71L841.04 821.06L845.08 820.43L849.12 819.81L853.16 819.21L857.19 818.62L861.21 818.04" fill="none" stroke="#ed1c24" stroke-width="2.4"/>
<path d="M30.8 1144.6 H452.3 V1448.8 A10 10 0 0 1 442.3 1458.8 H40.8 A10 10 0 0 1 30.8 1448.8 Z" fill="url(#g)"/>
<rect x="30.8" y="1144.6" width="421.5" height="3" fill="#fff"/>
<rect x="30.8" y="1147.1" width="422" height="1.8" fill="#c9cacc"/>
<path d="M30.8 1144.6 V1124.1 A9.5 9.5 0 0 1 40.3 1114.6 H442.8 A9.5 9.5 0 0 1 452.3 1124.1 V1144.6 Z" fill="#ed1c24"/>
<text font-size="21.4" textLength="257" lengthAdjust="spacing" style="fill:#fff;stroke:#fff;stroke-width:0.15px;" transform="translate(48.6 1135.2) scale(1 1)">Discharge characteristic</text>
<text font-size="11.9" textLength="61.32" lengthAdjust="spacing" transform="translate(49.5 1186.75) scale(1.06 1)">Voltage(V)</text>
<line x1="117.5" y1="1202.5" x2="117.5" y2="1390.25" stroke="#2a2627" stroke-width="1.1"/>
<line x1="145.5" y1="1202.5" x2="145.5" y2="1390.25" stroke="#2a2627" stroke-width="1.1"/>
<line x1="171.5" y1="1202.5" x2="171.5" y2="1390.25" stroke="#2a2627" stroke-width="1.1"/>
<line x1="223.5" y1="1202.5" x2="223.5" y2="1390.25" stroke="#2a2627" stroke-width="1.1"/>
<line x1="273.5" y1="1202.5" x2="273.5" y2="1390.25" stroke="#2a2627" stroke-width="1.1"/>
<line x1="301.5" y1="1202.5" x2="301.5" y2="1390.25" stroke="#2a2627" stroke-width="1.1"/>
<line x1="319.5" y1="1202.5" x2="319.5" y2="1390.25" stroke="#2a2627" stroke-width="1.1"/>
<line x1="335.5" y1="1202.5" x2="335.5" y2="1390.25" stroke="#2a2627" stroke-width="1.1"/>
<line x1="350.5" y1="1202.5" x2="350.5" y2="1390.25" stroke="#2a2627" stroke-width="1.1"/>
<line x1="363.5" y1="1202.5" x2="363.5" y2="1390.25" stroke="#2a2627" stroke-width="1.1"/>
<line x1="373.5" y1="1202.5" x2="373.5" y2="1390.25" stroke="#2a2627" stroke-width="1.1"/>
<line x1="381.5" y1="1202.5" x2="381.5" y2="1390.25" stroke="#2a2627" stroke-width="1.1"/>
<line x1="390.5" y1="1202.5" x2="390.5" y2="1390.25" stroke="#2a2627" stroke-width="1.1"/>
<line x1="88.5" y1="1218.5" x2="408" y2="1218.5" stroke="#2a2627" stroke-width="1.1"/>
<line x1="88.5" y1="1239.5" x2="408" y2="1239.5" stroke="#2a2627" stroke-width="1.1"/>
<line x1="88.5" y1="1261.5" x2="408" y2="1261.5" stroke="#2a2627" stroke-width="1.1"/>
<line x1="88.5" y1="1282.5" x2="408" y2="1282.5" stroke="#2a2627" stroke-width="1.1"/>
<line x1="88.5" y1="1304.5" x2="408" y2="1304.5" stroke="#2a2627" stroke-width="1.1"/>
<line x1="88.5" y1="1325.5" x2="408" y2="1325.5" stroke="#2a2627" stroke-width="1.1"/>
<line x1="88.5" y1="1347.5" x2="408" y2="1347.5" stroke="#2a2627" stroke-width="1.1"/>
<line x1="88.5" y1="1368.5" x2="408" y2="1368.5" stroke="#2a2627" stroke-width="1.1"/>
<line x1="88.5" y1="1203" x2="88.5" y2="1390.8" stroke="#2a2627" stroke-width="1.1"/>
<line x1="88" y1="1390.5" x2="413" y2="1390.5" stroke="#2a2627" stroke-width="1.1"/>
<polygon points="88.5,1196 83.5,1204.3 93.5,1204.3" fill="#231f20"/>
<polygon points="421.3,1390.25 411.3,1384.95 411.3,1395.55" fill="#231f20"/>
<text font-size="11.6" textLength="16.04" lengthAdjust="spacing" transform="translate(63.75 1222.9) scale(1.06 1)">2.1</text>
<text font-size="11.6" textLength="16.04" lengthAdjust="spacing" transform="translate(63.75 1244.65) scale(1.06 1)">2.0</text>
<text font-size="11.6" textLength="16.04" lengthAdjust="spacing" transform="translate(63.75 1266.15) scale(1.06 1)">1.9</text>
<text font-size="11.6" textLength="16.04" lengthAdjust="spacing" transform="translate(63.75 1287.5) scale(1.06 1)">1.8</text>
<text font-size="11.6" textLength="16.04" lengthAdjust="spacing" transform="translate(63.75 1308.9) scale(1.06 1)">1.7</text>
<text font-size="11.6" textLength="16.04" lengthAdjust="spacing" transform="translate(63.75 1330.4) scale(1.06 1)">1.6</text>
<text font-size="11.6" textLength="16.04" lengthAdjust="spacing" transform="translate(63.75 1351.9) scale(1.06 1)">1.5</text>
<text font-size="11.6" textLength="16.04" lengthAdjust="spacing" transform="translate(63.75 1373.4) scale(1.06 1)">1.4</text>
<text font-size="11.6" textLength="16.04" lengthAdjust="spacing" transform="translate(63.75 1395.15) scale(1.06 1)">1.3</text>
<text font-size="11.6" text-anchor="middle" letter-spacing="0.09" transform="translate(170.05 1410.2) scale(1.06 1)">0.5</text>
<text font-size="11.6" text-anchor="middle" letter-spacing="0.09" transform="translate(223.05 1410.2) scale(1.06 1)">1</text>
<text font-size="11.6" text-anchor="middle" letter-spacing="0.09" transform="translate(273.8 1410.2) scale(1.06 1)">2</text>
<text font-size="11.6" text-anchor="middle" letter-spacing="0.09" transform="translate(301.3 1410.2) scale(1.06 1)">3</text>
<text font-size="11.6" text-anchor="middle" letter-spacing="0.09" transform="translate(319.55 1410.2) scale(1.06 1)">4</text>
<text font-size="11.6" text-anchor="middle" letter-spacing="0.09" transform="translate(335.55 1410.2) scale(1.06 1)">5</text>
<text font-size="11.6" text-anchor="middle" letter-spacing="0.09" transform="translate(391.3 1410.2) scale(1.06 1)">10</text>
<text font-size="11.9" textLength="43.68" lengthAdjust="spacing" transform="translate(232.5 1439.25) scale(1.06 1)">Time(h)</text>
<path d="M112.4 1233.75L116.9 1233.99L121.4 1234.2L125.88 1234.39L130.37 1234.55L134.85 1234.7L139.33 1234.82L143.8 1234.93L148.27 1235.02L152.74 1235.09L157.21 1235.15L161.68 1235.2L166.14 1235.23L170.6 1235.25L175.06 1235.26L179.53 1235.27L183.99 1235.26L188.45 1235.25L192.91 1235.24L197.38 1235.22L201.84 1235.19L206.31 1235.17L210.78 1235.15L215.25 1235.12L219.73 1235.1L224.2 1235.08L228.69 1235.07L233.17 1235.08L237.66 1235.1L242.14 1235.15L246.63 1235.23L251.12 1235.35L255.61 1235.51L260.09 1235.73L264.57 1236L269.05 1236.34L273.53 1236.75L278 1237.24L282.46 1237.81L286.91 1238.46L291.34 1239.21L295.76 1240.05L300.14 1240.99L304.5 1242.03L308.82 1243.18L313.1 1244.44L317.34 1245.82L321.53 1247.32L325.68 1248.94L329.76 1250.7L333.78 1252.58L337.74 1254.61L341.64 1256.77L345.45 1259.06L349.19 1261.49L352.85 1264.04L356.42 1266.72L359.89 1269.53L363.28 1272.45L366.56 1275.49L369.73 1278.65L372.8 1281.92L375.75 1285.3L378.58 1288.78L381.29 1292.37L383.88 1296.06L386.33 1299.85L388.64 1303.74L390.81 1307.71L392.84 1311.78" fill="none" stroke="#ed1c24" stroke-width="1.15"/>
<path d="M112.4 1241.75L116.09 1242.03L119.78 1242.24L123.47 1242.41L127.16 1242.52L130.85 1242.59L134.54 1242.62L138.23 1242.61L141.92 1242.57L145.61 1242.5L149.3 1242.4L152.99 1242.28L156.68 1242.15L160.36 1242L164.05 1241.84L167.74 1241.68L171.42 1241.51L175.11 1241.35L178.79 1241.19L182.48 1241.05L186.16 1240.92L189.85 1240.81L193.53 1240.72L197.21 1240.66L200.9 1240.62L204.58 1240.63L208.26 1240.67L211.94 1240.75L215.63 1240.88L219.31 1241.07L222.99 1241.3L226.67 1241.6L230.35 1241.95L234.02 1242.36L237.69 1242.84L241.36 1243.37L245.01 1243.97L248.65 1244.63L252.28 1245.36L255.9 1246.15L259.51 1247.01L263.09 1247.93L266.66 1248.92L270.21 1249.98L273.73 1251.12L277.24 1252.32L280.71 1253.6L284.14 1254.96L287.54 1256.41L290.88 1257.96L294.16 1259.62L297.37 1261.38L300.52 1263.26L303.59 1265.26L306.57 1267.38L309.47 1269.62L312.29 1271.97L315.01 1274.43L317.65 1277L320.19 1279.67L322.64 1282.44L325 1285.31L327.26 1288.25L329.42 1291.28L331.49 1294.37L333.47 1297.53L335.34 1300.75L337.12 1304.01L338.8 1307.31L340.39 1310.65" fill="none" stroke="#ed1c24" stroke-width="1.15"/>
<path d="M112.45 1248.8L115.49 1248.94L118.55 1249.04L121.64 1249.11L124.75 1249.15L127.88 1249.17L131.03 1249.16L134.19 1249.14L137.37 1249.1L140.57 1249.04L143.78 1248.98L147 1248.9L150.24 1248.83L153.48 1248.74L156.74 1248.66L160 1248.58L163.26 1248.51L166.54 1248.45L169.81 1248.39L173.09 1248.35L176.37 1248.33L179.65 1248.33L182.93 1248.35L186.2 1248.4L189.47 1248.47L192.74 1248.58L196 1248.72L199.25 1248.9L202.5 1249.11L205.73 1249.37L208.95 1249.68L212.16 1250.03L215.35 1250.43L218.53 1250.89L221.7 1251.4L224.84 1251.97L227.97 1252.61L231.07 1253.31L234.16 1254.07L237.22 1254.91L240.26 1255.82L243.27 1256.81L246.26 1257.88L249.21 1259.02L252.14 1260.26L255.04 1261.57L257.9 1262.97L260.72 1264.46L263.51 1266.02L266.25 1267.67L268.95 1269.39L271.6 1271.19L274.19 1273.07L276.74 1275.02L279.22 1277.05L281.65 1279.15L284.02 1281.33L286.32 1283.57L288.55 1285.89L290.71 1288.27L292.8 1290.73L294.81 1293.25L296.74 1295.83L298.6 1298.48L300.36 1301.2L302.04 1303.97L303.63 1306.81L305.13 1309.71L306.53 1312.67L307.83 1315.68" fill="none" stroke="#ed1c24" stroke-width="1.15"/>
<path d="M111.87 1254.61L114.53 1254.63L117.21 1254.64L119.9 1254.65L122.61 1254.66L125.32 1254.67L128.05 1254.67L130.78 1254.68L133.52 1254.69L136.28 1254.71L139.03 1254.73L141.8 1254.76L144.57 1254.81L147.34 1254.86L150.12 1254.93L152.9 1255.01L155.68 1255.11L158.46 1255.23L161.24 1255.36L164.02 1255.52L166.8 1255.7L169.57 1255.91L172.34 1256.14L175.11 1256.4L177.87 1256.69L180.63 1257.01L183.37 1257.36L186.11 1257.74L188.84 1258.17L191.56 1258.63L194.27 1259.12L196.97 1259.66L199.65 1260.24L202.32 1260.87L204.98 1261.54L207.62 1262.26L210.24 1263.02L212.85 1263.84L215.44 1264.71L218.01 1265.63L220.56 1266.6L223.09 1267.64L225.6 1268.73L228.08 1269.88L230.54 1271.08L232.97 1272.35L235.37 1273.67L237.74 1275.04L240.07 1276.48L242.37 1277.97L244.63 1279.52L246.85 1281.13L249.03 1282.79L251.17 1284.51L253.26 1286.29L255.3 1288.12L257.29 1290.01L259.23 1291.96L261.12 1293.96L262.95 1296.02L264.72 1298.13L266.44 1300.29L268.11 1302.5L269.72 1304.76L271.28 1307.06L272.79 1309.39L274.24 1311.76L275.65 1314.17L277.01 1316.6L278.32 1319.05" fill="none" stroke="#ed1c24" stroke-width="1.15"/>
<path d="M111.74 1260.45L113.9 1260.6L116.06 1260.78L118.22 1260.97L120.39 1261.19L122.57 1261.42L124.74 1261.68L126.91 1261.97L129.09 1262.28L131.26 1262.61L133.43 1262.96L135.6 1263.35L137.76 1263.75L139.92 1264.19L142.08 1264.65L144.23 1265.13L146.37 1265.65L148.5 1266.19L150.63 1266.76L152.74 1267.36L154.85 1267.99L156.94 1268.65L159.02 1269.33L161.09 1270.05L163.15 1270.8L165.19 1271.59L167.21 1272.4L169.22 1273.25L171.21 1274.13L173.18 1275.04L175.14 1275.99L177.07 1276.97L178.98 1277.99L180.87 1279.04L182.74 1280.13L184.59 1281.25L186.41 1282.41L188.21 1283.61L189.98 1284.85L191.73 1286.12L193.45 1287.43L195.14 1288.77L196.8 1290.15L198.44 1291.56L200.05 1293L201.63 1294.48L203.18 1296L204.7 1297.54L206.18 1299.12L207.64 1300.73L209.07 1302.36L210.46 1304.03L211.83 1305.73L213.16 1307.46L214.45 1309.22L215.72 1311L216.94 1312.81L218.14 1314.65L219.29 1316.52L220.42 1318.41L221.5 1320.33L222.55 1322.27L223.56 1324.24L224.54 1326.24L225.47 1328.25L226.37 1330.29L227.22 1332.35L228.04 1334.44L228.82 1336.54L229.55 1338.67" fill="none" stroke="#ed1c24" stroke-width="1.15"/>
<path d="M109.63 1284.53L110.88 1285.2L112.13 1285.88L113.37 1286.57L114.61 1287.27L115.85 1287.98L117.08 1288.7L118.31 1289.43L119.53 1290.17L120.75 1290.92L121.96 1291.68L123.17 1292.46L124.38 1293.24L125.57 1294.03L126.76 1294.84L127.95 1295.65L129.13 1296.47L130.3 1297.31L131.47 1298.15L132.63 1299.01L133.78 1299.87L134.93 1300.75L136.06 1301.63L137.19 1302.53L138.31 1303.44L139.43 1304.35L140.53 1305.28L141.63 1306.21L142.71 1307.16L143.79 1308.12L144.86 1309.08L145.92 1310.06L146.96 1311.05L148 1312.04L149.03 1313.05L150.05 1314.07L151.06 1315.09L152.05 1316.13L153.04 1317.18L154.01 1318.23L154.97 1319.3L155.92 1320.38L156.86 1321.46L157.78 1322.56L158.7 1323.66L159.6 1324.78L160.48 1325.91L161.36 1327.04L162.22 1328.19L163.07 1329.34L163.9 1330.51L164.72 1331.68L165.52 1332.87L166.31 1334.06L167.09 1335.26L167.85 1336.48L168.59 1337.7L169.32 1338.93L170.04 1340.18L170.73 1341.43L171.42 1342.69L172.08 1343.96L172.73 1345.24L173.36 1346.53L173.98 1347.83L174.58 1349.14L175.16 1350.46L175.72 1351.79L176.26 1353.13L176.79 1354.48" fill="none" stroke="#ed1c24" stroke-width="1.15"/>
<path d="M527.5 1144.6 H949 V1448.8 A10 10 0 0 1 939 1458.8 H537.5 A10 10 0 0 1 527.5 1448.8 Z" fill="url(#g)"/>
<rect x="527.5" y="1144.6" width="421.5" height="3" fill="#fff"/>
<rect x="527.5" y="1147.1" width="422" height="1.8" fill="#c9cacc"/>
<path d="M527.5 1144.6 V1124.1 A9.5 9.5 0 0 1 537 1114.6 H939.5 A9.5 9.5 0 0 1 949 1124.1 V1144.6 Z" fill="#ed1c24"/>
<text font-size="21.4" textLength="237" lengthAdjust="spacing" style="fill:#fff;stroke:#fff;stroke-width:0.15px;" transform="translate(549.2 1135.2) scale(1 1)">The cycle life and DOD</text>
<line x1="581.5" y1="1198" x2="581.5" y2="1403.25" stroke="#2a2627" stroke-width="1.1"/>
<line x1="631.5" y1="1198" x2="631.5" y2="1403.25" stroke="#2a2627" stroke-width="1.1"/>
<line x1="681.5" y1="1198" x2="681.5" y2="1403.25" stroke="#2a2627" stroke-width="1.1"/>
<line x1="731.5" y1="1198" x2="731.5" y2="1403.25" stroke="#2a2627" stroke-width="1.1"/>
<line x1="780.5" y1="1198" x2="780.5" y2="1403.25" stroke="#2a2627" stroke-width="1.1"/>
<line x1="830.5" y1="1198" x2="830.5" y2="1403.25" stroke="#2a2627" stroke-width="1.1"/>
<line x1="880.5" y1="1198" x2="880.5" y2="1403.25" stroke="#2a2627" stroke-width="1.1"/>
<line x1="929.5" y1="1198" x2="929.5" y2="1403.25" stroke="#2a2627" stroke-width="1.1"/>
<line x1="579.8" y1="1198.5" x2="929.25" y2="1198.5" stroke="#2a2627" stroke-width="1.1"/>
<line x1="579.8" y1="1232.5" x2="929.25" y2="1232.5" stroke="#2a2627" stroke-width="1.1"/>
<line x1="579.8" y1="1266.5" x2="929.25" y2="1266.5" stroke="#2a2627" stroke-width="1.1"/>
<line x1="579.8" y1="1300.5" x2="929.25" y2="1300.5" stroke="#2a2627" stroke-width="1.1"/>
<line x1="579.8" y1="1335.5" x2="929.25" y2="1335.5" stroke="#2a2627" stroke-width="1.1"/>
<line x1="579.8" y1="1369.5" x2="929.25" y2="1369.5" stroke="#2a2627" stroke-width="1.1"/>
<line x1="579.8" y1="1403.5" x2="929.25" y2="1403.5" stroke="#2a2627" stroke-width="1.1"/>
<text font-size="11.6" text-anchor="end" letter-spacing="0.09" transform="translate(574.8 1203.25) scale(1.06 1)">120</text>
<text font-size="11.6" text-anchor="end" letter-spacing="0.09" transform="translate(574.8 1237) scale(1.06 1)">100</text>
<text font-size="11.6" text-anchor="end" letter-spacing="0.09" transform="translate(574.8 1268.75) scale(1.06 1)">80</text>
<text font-size="11.6" text-anchor="end" letter-spacing="0.09" transform="translate(574.8 1303.25) scale(1.06 1)">60</text>
<text font-size="11.6" text-anchor="end" letter-spacing="0.09" transform="translate(574.8 1338.25) scale(1.06 1)">40</text>
<text font-size="11.6" text-anchor="end" letter-spacing="0.09" transform="translate(574.8 1373) scale(1.06 1)">20</text>
<text font-size="11.6" text-anchor="end" letter-spacing="0.09" transform="translate(574.8 1406.25) scale(1.06 1)">0</text>
<text font-size="11.6" text-anchor="middle" letter-spacing="0.09" transform="translate(580.8 1416.3) scale(1.06 1)">0</text>
<text font-size="11.6" text-anchor="middle" letter-spacing="0.09" transform="translate(634.3 1416.3) scale(1.06 1)">500</text>
<text font-size="11.6" text-anchor="middle" letter-spacing="0.09" transform="translate(685.05 1416.3) scale(1.06 1)">1000</text>
<text font-size="11.6" text-anchor="middle" letter-spacing="0.09" transform="translate(732.05 1416.3) scale(1.06 1)">1500</text>
<text font-size="11.6" text-anchor="middle" letter-spacing="0.09" transform="translate(778.8 1416.3) scale(1.06 1)">2000</text>
<text font-size="11.6" text-anchor="middle" letter-spacing="0.09" transform="translate(825.55 1416.3) scale(1.06 1)">2500</text>
<text font-size="11.6" text-anchor="middle" letter-spacing="0.09" transform="translate(876.3 1416.3) scale(1.06 1)">3000</text>
<text font-size="11.6" text-anchor="middle" letter-spacing="0.09" transform="translate(920.55 1416.3) scale(1.06 1)">3500</text>
<text font-size="11.9" textLength="38.87" lengthAdjust="spacing" transform="translate(721.3 1437.5) scale(1.06 1)">Cycles</text>
<text font-size="11.9" textLength="125" lengthAdjust="spacing" transform="translate(550 1376.25) rotate(-90) scale(1.06 1)">Depth of Discharge(%)</text>
<path d="M631.68 1232.74L633.99 1233.37L636.31 1233.99L638.63 1234.6L640.97 1235.2L643.3 1235.8L645.64 1236.39L647.99 1236.97L650.34 1237.55L652.69 1238.13L655.05 1238.71L657.4 1239.28L659.76 1239.86L662.11 1240.44L664.47 1241.03L666.82 1241.62L669.17 1242.22L671.52 1242.83L673.87 1243.45L676.21 1244.08L678.55 1244.72L680.88 1245.37L683.21 1246.04L685.52 1246.73L687.83 1247.43L690.14 1248.15L692.43 1248.9L694.71 1249.66L696.99 1250.45L699.25 1251.26L701.5 1252.09L703.74 1252.96L705.97 1253.85L708.18 1254.77L710.38 1255.72L712.56 1256.7L714.72 1257.72L716.87 1258.77L719.01 1259.86L721.12 1260.99L723.22 1262.15L725.3 1263.34L727.37 1264.56L729.42 1265.82L731.46 1267.1L733.49 1268.41L735.5 1269.74L737.51 1271.09L739.5 1272.46L741.48 1273.86L743.46 1275.26L745.43 1276.69L747.39 1278.12L749.34 1279.57L751.29 1281.02L753.23 1282.49L755.17 1283.95L757.11 1285.42L759.04 1286.9L760.98 1288.37L762.91 1289.84L764.84 1291.3L766.78 1292.76L768.71 1294.21L770.65 1295.65L772.6 1297.08L774.54 1298.5L776.5 1299.9L778.45 1301.28L780.42 1302.64L780.5 1302.51L781.86 1303.17L783.22 1303.83L784.59 1304.48L785.96 1305.12L787.34 1305.75L788.71 1306.37L790.09 1306.99L791.48 1307.6L792.86 1308.2L794.25 1308.8L795.64 1309.39L797.04 1309.97L798.43 1310.55L799.83 1311.12L801.24 1311.68L802.64 1312.24L804.05 1312.79L805.45 1313.33L806.86 1313.87L808.28 1314.4L809.69 1314.93L811.11 1315.45L812.53 1315.97L813.95 1316.48L815.37 1316.99L816.8 1317.49L818.23 1317.99L819.65 1318.48L821.08 1318.97L822.51 1319.45L823.95 1319.93L825.38 1320.41L826.82 1320.88L828.26 1321.34L829.7 1321.81L831.14 1322.27L832.58 1322.73L834.02 1323.18L835.46 1323.63L836.91 1324.08L838.35 1324.52L839.8 1324.96L841.25 1325.4L842.69 1325.84L844.14 1326.27L845.59 1326.7L847.04 1327.13L848.49 1327.56L849.94 1327.99L851.4 1328.41L852.85 1328.83L854.3 1329.25L855.75 1329.67L857.21 1330.09L858.66 1330.51L860.11 1330.92L861.57 1331.34L863.02 1331.75L864.47 1332.17L865.93 1332.58L867.38 1333L868.83 1333.41L870.29 1333.82L871.74 1334.24L873.19 1334.65L874.64 1335.06L876.09 1335.48L877.54 1335.89L878.99 1336.31" fill="none" stroke="#1a1718" stroke-width="2.6" stroke-linejoin="round"/>
</svg>
</body></html>
